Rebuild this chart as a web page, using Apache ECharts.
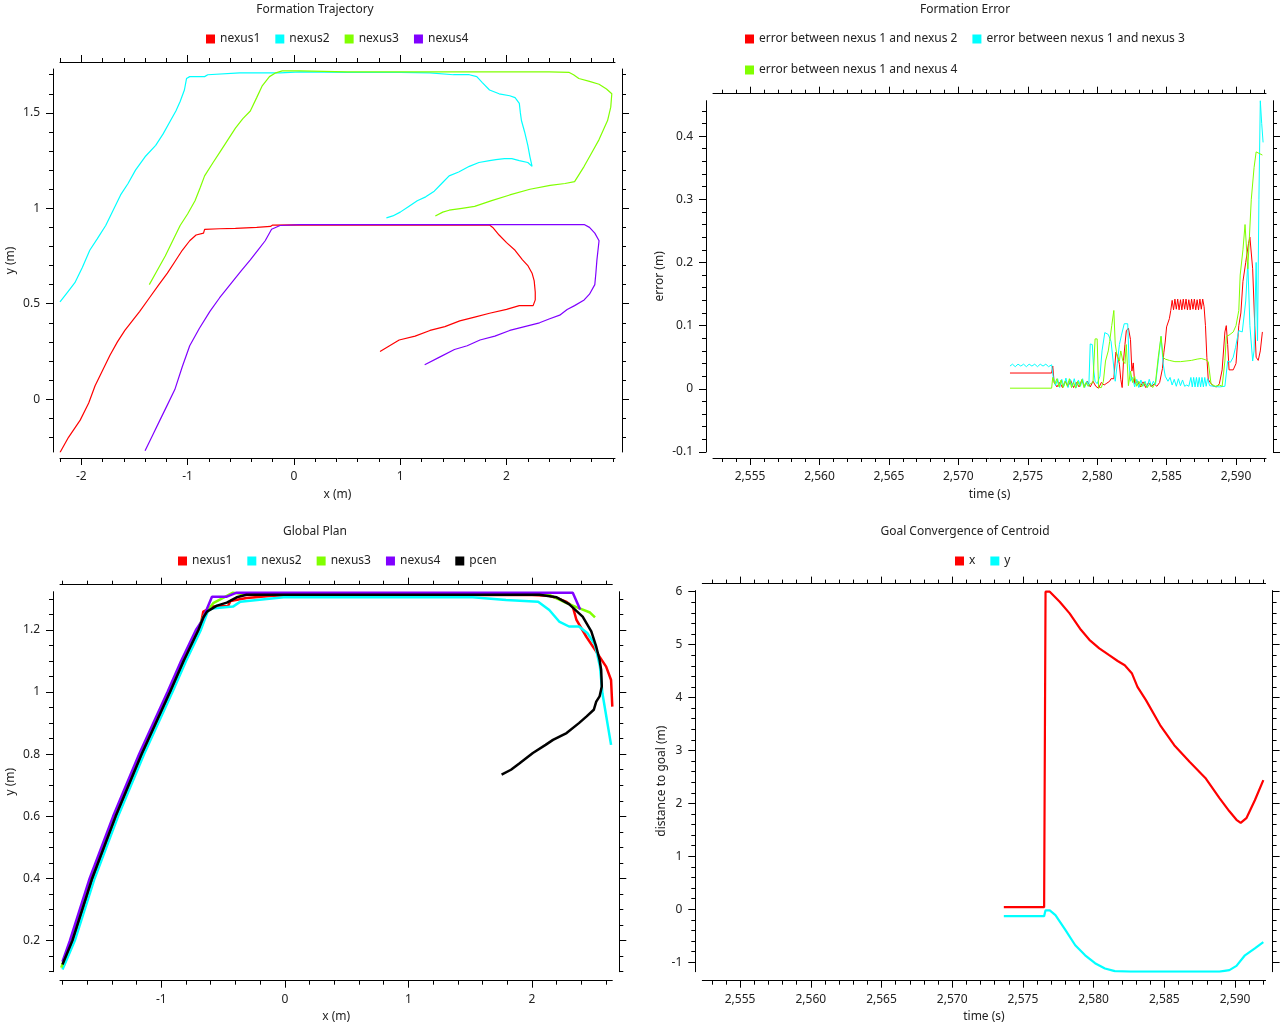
<!DOCTYPE html>
<html><head><meta charset="utf-8">
<script src="https://cdn.jsdelivr.net/npm/echarts@6/dist/echarts.min.js"></script>
<style>html,body{margin:0;padding:0;background:#fff}#c{width:1280px;height:1024px}</style>
</head><body><div id="c"></div>
<script>
// ---------- Panel 1: Formation Trajectory ----------
const traj1 = [[-2.20,-0.28],[-2.12,-0.20],[-2.01,-0.11],[-1.93,-0.02],[-1.87,0.07],[-1.80,0.15],[-1.73,0.23],[-1.66,0.30],[-1.59,0.36],[-1.52,0.41],[-1.45,0.46],[-1.36,0.53],[-1.27,0.60],[-1.19,0.66],[-1.12,0.72],[-1.05,0.78],[-0.98,0.83],[-0.92,0.86],[-0.85,0.87],[-0.84,0.89],[-0.70,0.893],[-0.55,0.895],[-0.35,0.90],[-0.22,0.905],[-0.20,0.912],[0.0,0.913],[0.5,0.912],[1.0,0.913],[1.5,0.912],[1.84,0.912],[1.87,0.90],[1.93,0.86],[2.00,0.82],[2.08,0.78],[2.15,0.73],[2.20,0.70],[2.24,0.66],[2.26,0.62],[2.27,0.56],[2.27,0.52],[2.25,0.49],[2.18,0.49],[2.12,0.49],[2.00,0.47],[1.84,0.45],[1.70,0.43],[1.56,0.41],[1.42,0.38],[1.28,0.36],[1.14,0.33],[0.99,0.31],[0.90,0.28],[0.81,0.25]];
const traj2 = [[-2.20,0.51],[-2.13,0.56],[-2.06,0.61],[-1.99,0.69],[-1.92,0.78],[-1.85,0.84],[-1.77,0.91],[-1.70,0.99],[-1.63,1.07],[-1.56,1.13],[-1.49,1.20],[-1.40,1.27],[-1.30,1.33],[-1.23,1.39],[-1.16,1.46],[-1.11,1.51],[-1.07,1.56],[-1.03,1.62],[-1.01,1.68],[-0.98,1.69],[-0.90,1.69],[-0.84,1.69],[-0.81,1.70],[-0.51,1.71],[-0.13,1.71],[0.06,1.715],[0.5,1.712],[1.0,1.712],[1.28,1.71],[1.50,1.70],[1.65,1.70],[1.72,1.69],[1.77,1.66],[1.84,1.62],[1.93,1.60],[2.03,1.59],[2.08,1.58],[2.12,1.55],[2.13,1.50],[2.14,1.46],[2.17,1.40],[2.20,1.33],[2.22,1.27],[2.24,1.22],[2.20,1.24],[2.12,1.25],[2.05,1.26],[1.98,1.26],[1.90,1.255],[1.84,1.25],[1.74,1.24],[1.65,1.22],[1.55,1.19],[1.46,1.17],[1.39,1.13],[1.32,1.09],[1.24,1.06],[1.16,1.04],[1.08,1.01],[1.00,0.98],[0.93,0.96],[0.87,0.95]];
const traj3 = [[-1.36,0.60],[-1.29,0.67],[-1.21,0.75],[-1.14,0.83],[-1.07,0.91],[-1.00,0.97],[-0.93,1.04],[-0.88,1.11],[-0.84,1.17],[-0.76,1.24],[-0.69,1.30],[-0.62,1.36],[-0.55,1.42],[-0.48,1.47],[-0.41,1.51],[-0.35,1.58],[-0.30,1.64],[-0.23,1.69],[-0.17,1.71],[-0.11,1.72],[0.06,1.72],[0.5,1.715],[1.0,1.715],[1.5,1.715],[2.0,1.715],[2.4,1.715],[2.59,1.712],[2.63,1.70],[2.68,1.68],[2.78,1.665],[2.87,1.65],[2.94,1.625],[2.99,1.60],[2.98,1.53],[2.95,1.46],[2.91,1.41],[2.87,1.36],[2.80,1.29],[2.73,1.22],[2.64,1.14],[2.55,1.13],[2.41,1.12],[2.22,1.10],[2.03,1.07],[1.86,1.04],[1.70,1.01],[1.58,1.00],[1.46,0.99],[1.40,0.98],[1.33,0.96]];
const traj4 = [[-1.40,-0.27],[-1.33,-0.19],[-1.26,-0.11],[-1.19,-0.03],[-1.12,0.05],[-1.05,0.17],[-0.98,0.28],[-0.89,0.37],[-0.79,0.46],[-0.70,0.53],[-0.60,0.60],[-0.50,0.67],[-0.41,0.73],[-0.34,0.78],[-0.27,0.83],[-0.21,0.89],[-0.13,0.91],[0.06,0.915],[0.5,0.915],[1.0,0.915],[1.5,0.915],[2.0,0.915],[2.5,0.915],[2.73,0.915],[2.78,0.90],[2.83,0.87],[2.87,0.83],[2.86,0.78],[2.85,0.73],[2.84,0.66],[2.83,0.60],[2.78,0.55],[2.73,0.52],[2.64,0.49],[2.57,0.47],[2.50,0.44],[2.40,0.42],[2.31,0.40],[2.17,0.38],[2.03,0.36],[1.89,0.33],[1.75,0.31],[1.63,0.28],[1.51,0.26],[1.37,0.22],[1.23,0.18]];
const trajXTicks = [-2,-1,0,1,2];
const trajYTicks = [0,0.5,1,1.5];

// ---------- Panel 2: Formation Error ----------
const err12 = [[2573.72,0.025],[2576.72,0.025],[2576.8,0.036],[2576.9,0.01],[2577.1,0.003],[2577.3,0.01],[2577.5,0.002],[2577.7,0.012],[2577.9,0.004],[2578.1,0.013],[2578.3,0.002],[2578.5,0.01],[2578.7,0.003],[2578.9,0.014],[2579.1,0.004],[2579.3,0.012],[2579.5,0.003],[2579.7,0.012],[2579.9,0.004],[2580.1,0.001],[2580.3,0.01],[2580.5,0.006],[2580.7,0.009],[2580.9,0.012],[2581.0,0.016],[2581.2,0.016],[2581.35,0.058],[2581.5,0.05],[2581.6,0.039],[2581.7,0.015],[2581.8,0.002],[2581.9,0.045],[2582.0,0.07],[2582.1,0.092],[2582.25,0.096],[2582.4,0.078],[2582.5,0.028],[2582.6,0.041],[2582.7,0.008],[2582.9,0.012],[2583.1,0.003],[2583.3,0.011],[2583.5,0.002],[2583.7,0.01],[2583.9,0.003],[2584.1,0.008],[2584.3,0.004],[2584.5,0.01],[2584.7,0.032],[2584.8,0.057],[2584.9,0.074],[2585.0,0.098],[2585.2,0.111],[2585.3,0.124],[2585.4,0.14],[2585.5,0.125],[2585.6,0.142],[2585.7,0.126],[2585.8,0.142],[2585.9,0.125],[2586.0,0.141],[2586.1,0.125],[2586.2,0.142],[2586.3,0.126],[2586.4,0.142],[2586.5,0.125],[2586.6,0.141],[2586.7,0.125],[2586.8,0.142],[2586.9,0.126],[2587.0,0.142],[2587.1,0.125],[2587.2,0.141],[2587.3,0.125],[2587.4,0.142],[2587.5,0.126],[2587.6,0.142],[2587.7,0.13],[2587.8,0.1],[2587.9,0.05],[2588.0,0.015],[2588.2,0.008],[2588.4,0.004],[2588.6,0.003],[2588.8,0.008],[2589.0,0.03],[2589.2,0.09],[2589.3,0.1],[2589.4,0.07],[2589.5,0.03],[2589.6,0.028],[2589.8,0.03],[2590.0,0.04],[2590.2,0.1],[2590.35,0.12],[2590.5,0.17],[2590.7,0.2],[2590.9,0.23],[2591.0,0.24],[2591.2,0.19],[2591.35,0.1],[2591.45,0.05],[2591.6,0.045],[2591.75,0.06],[2591.9,0.09]];
const err13 = [[2573.72,0.036],[2573.9,0.039],[2574.1,0.035],[2574.3,0.039],[2574.5,0.036],[2574.7,0.039],[2574.9,0.035],[2575.1,0.039],[2575.3,0.036],[2575.5,0.039],[2575.7,0.035],[2575.9,0.039],[2576.1,0.036],[2576.3,0.039],[2576.5,0.035],[2576.72,0.038],[2576.84,0.018],[2577.0,0.005],[2577.15,0.016],[2577.3,0.002],[2577.45,0.015],[2577.6,0.004],[2577.75,0.017],[2577.9,0.002],[2578.05,0.015],[2578.2,0.003],[2578.35,0.016],[2578.5,0.002],[2578.65,0.014],[2578.8,0.004],[2578.95,0.016],[2579.1,0.002],[2579.25,0.012],[2579.4,0.004],[2579.5,0.071],[2579.65,0.07],[2579.75,0.03],[2579.85,0.012],[2580.0,0.008],[2580.2,0.02],[2580.35,0.06],[2580.55,0.089],[2580.8,0.086],[2581.0,0.075],[2581.15,0.044],[2581.3,0.012],[2581.45,0.04],[2581.6,0.07],[2581.75,0.085],[2581.95,0.103],[2582.2,0.103],[2582.3,0.04],[2582.4,0.012],[2582.55,0.018],[2582.7,0.003],[2582.85,0.015],[2583.0,0.002],[2583.15,0.014],[2583.3,0.004],[2583.45,0.012],[2583.6,0.002],[2583.75,0.015],[2583.9,0.004],[2584.05,0.012],[2584.2,0.006],[2584.4,0.044],[2584.6,0.083],[2584.75,0.04],[2584.9,0.02],[2585.1,0.012],[2585.25,0.018],[2585.4,0.006],[2585.55,0.015],[2585.7,0.004],[2585.85,0.016],[2586.0,0.005],[2586.15,0.014],[2586.3,0.004],[2586.45,0.006],[2586.6,0.004],[2586.75,0.018],[2586.85,0.003],[2586.95,0.018],[2587.05,0.003],[2587.15,0.018],[2587.25,0.003],[2587.35,0.018],[2587.45,0.003],[2587.55,0.018],[2587.65,0.003],[2587.75,0.018],[2587.85,0.004],[2587.95,0.016],[2588.1,0.005],[2588.4,0.004],[2588.8,0.003],[2589.2,0.004],[2589.4,0.044],[2589.6,0.042],[2589.8,0.05],[2589.96,0.065],[2590.2,0.092],[2590.45,0.09],[2590.7,0.139],[2590.85,0.2],[2591.0,0.1],[2591.2,0.044],[2591.3,0.06],[2591.45,0.2],[2591.55,0.076],[2591.65,0.3],[2591.75,0.456],[2591.85,0.42],[2591.95,0.39]];
const err14 = [[2573.72,0.001],[2576.72,0.001],[2576.8,0.018],[2576.95,0.008],[2577.1,0.016],[2577.25,0.003],[2577.4,0.014],[2577.55,0.002],[2577.7,0.012],[2577.85,0.004],[2578.0,0.016],[2578.15,0.002],[2578.3,0.01],[2578.45,0.001],[2578.6,0.012],[2578.75,0.004],[2578.9,0.015],[2579.05,0.002],[2579.2,0.01],[2579.35,0.004],[2579.5,0.008],[2579.7,0.01],[2579.85,0.079],[2580.0,0.079],[2580.1,0.002],[2580.3,0.002],[2580.45,0.012],[2580.6,0.044],[2580.8,0.06],[2580.9,0.075],[2581.05,0.1],[2581.2,0.124],[2581.3,0.071],[2581.45,0.05],[2581.6,0.044],[2581.7,0.06],[2581.85,0.044],[2582.0,0.04],[2582.1,0.07],[2582.25,0.005],[2582.4,0.028],[2582.55,0.01],[2582.7,0.02],[2582.85,0.004],[2583.0,0.012],[2583.2,0.003],[2583.4,0.01],[2583.6,0.002],[2583.8,0.008],[2584.0,0.002],[2584.2,0.01],[2584.4,0.05],[2584.6,0.083],[2584.75,0.05],[2584.9,0.047],[2585.2,0.045],[2585.6,0.043],[2586.0,0.043],[2586.4,0.044],[2586.8,0.045],[2587.2,0.047],[2587.5,0.048],[2587.8,0.046],[2588.0,0.043],[2588.2,0.008],[2588.5,0.004],[2588.8,0.006],[2589.0,0.004],[2589.2,0.044],[2589.3,0.083],[2589.5,0.085],[2589.8,0.09],[2590.0,0.1],[2590.2,0.124],[2590.3,0.18],[2590.5,0.22],[2590.65,0.26],[2590.85,0.19],[2591.1,0.3],[2591.3,0.35],[2591.45,0.375],[2591.9,0.37]];
const timeTicks = [2555,2560,2565,2570,2575,2580,2585,2590];
const errYTicks = [-0.1,0,0.1,0.2,0.3,0.4];

// ---------- Panel 3: Global Plan ----------
const plan1 = [[-1.79,0.12],[-1.72,0.2],[-1.55,0.4],[-1.36,0.6],[-1.15,0.8],[-0.92,1.0],[-0.81,1.1],[-0.69,1.2],[-0.66,1.259],[-0.58,1.275],[-0.46,1.277],[-0.44,1.293],[-0.31,1.303],[-0.1,1.31],[0.5,1.312],[1.0,1.312],[1.5,1.312],[2.0,1.312],[2.14,1.31],[2.22,1.30],[2.28,1.29],[2.33,1.275],[2.36,1.232],[2.44,1.178],[2.52,1.13],[2.60,1.082],[2.64,1.039],[2.65,0.953]];
const plan2 = [[-1.80,0.107],[-1.70,0.2],[-1.54,0.4],[-1.35,0.6],[-1.14,0.8],[-0.91,1.0],[-0.80,1.1],[-0.68,1.2],[-0.62,1.264],[-0.57,1.27],[-0.42,1.275],[-0.36,1.291],[-0.01,1.305],[1.0,1.305],[1.52,1.305],[1.79,1.296],[2.05,1.291],[2.14,1.264],[2.22,1.227],[2.30,1.211],[2.38,1.211],[2.45,1.189],[2.51,1.152],[2.55,1.082],[2.57,0.996],[2.64,0.83]];
const plan3 = [[-1.81,0.113],[-1.73,0.2],[-1.57,0.4],[-1.38,0.6],[-1.17,0.8],[-0.94,1.0],[-0.83,1.1],[-0.71,1.2],[-0.65,1.25],[-0.58,1.286],[-0.42,1.32],[-0.31,1.313],[0.5,1.313],[2.14,1.313],[2.28,1.286],[2.38,1.27],[2.47,1.256],[2.51,1.24]];
const plan4 = [[-1.80,0.132],[-1.74,0.2],[-1.58,0.4],[-1.39,0.6],[-1.18,0.8],[-0.95,1.0],[-0.84,1.1],[-0.72,1.2],[-0.67,1.23],[-0.59,1.307],[-0.47,1.307],[-0.39,1.32],[0.5,1.32],[1.5,1.32],[2.33,1.32],[2.39,1.266]];
const pcen = [[-1.80,0.123],[-1.72,0.2],[-1.56,0.4],[-1.37,0.6],[-1.16,0.8],[-0.93,1.0],[-0.82,1.1],[-0.70,1.2],[-0.66,1.24],[-0.63,1.259],[-0.55,1.278],[-0.47,1.288],[-0.39,1.305],[-0.31,1.313],[0.5,1.313],[1.5,1.313],[2.06,1.313],[2.20,1.305],[2.30,1.283],[2.41,1.243],[2.48,1.195],[2.52,1.146],[2.547,1.104],[2.56,1.071],[2.565,1.018],[2.547,0.986],[2.52,0.969],[2.50,0.943],[2.44,0.921],[2.38,0.90],[2.28,0.868],[2.17,0.846],[2.11,0.83],[2.007,0.804],[1.90,0.771],[1.83,0.75],[1.754,0.734]];
const planXTicks = [-1,0,1,2];
const planYTicks = [0.2,0.4,0.6,0.8,1,1.2];

// ---------- Panel 4: Goal Convergence of Centroid ----------
const goalX = [[2573.65,0.04],[2576.5,0.04],[2576.6,6.0],[2576.7,6.02],[2576.9,6.0],[2577.6,5.81],[2578.3,5.59],[2579.1,5.28],[2579.7,5.09],[2580.4,4.93],[2581.1,4.80],[2581.7,4.69],[2582.2,4.61],[2582.7,4.46],[2583.1,4.20],[2583.7,3.95],[2584.7,3.48],[2585.7,3.10],[2586.8,2.78],[2587.9,2.48],[2588.9,2.10],[2589.6,1.85],[2590.1,1.69],[2590.4,1.63],[2590.8,1.72],[2591.4,2.06],[2592.0,2.44]];
const goalY = [[2573.65,-0.13],[2576.5,-0.13],[2576.6,-0.02],[2576.9,-0.02],[2577.3,-0.11],[2578.0,-0.39],[2578.7,-0.68],[2579.4,-0.87],[2580.1,-1.02],[2580.8,-1.12],[2581.5,-1.17],[2582.6,-1.18],[2588.9,-1.18],[2589.6,-1.15],[2590.1,-1.07],[2590.7,-0.87],[2591.4,-0.74],[2592.0,-0.62]];
const goalYTicks = [-1,0,1,2,3,4,5,6];

// ---------- helpers ----------
const FONT = '"Noto Sans", "Open Sans", sans-serif';
const TXT = '#222';
function steps(min, max, step) {
  const out = [];
  const k0 = Math.ceil(min / step - 1e-9), k1 = Math.floor(max / step + 1e-9);
  for (let k = k0; k <= k1; k++) out.push(+(k * step).toFixed(6));
  return out;
}
const fmtNum = v => String(+(+v).toFixed(6));
const fmtTime = v => Math.round(v).toLocaleString('en-US');

function axisPair(kind, g, pos, min, max, major, minorStep, off, labels, fmt, name, nameGap) {
  const minor = steps(min, max, minorStep);
  const base = { type: 'value', gridIndex: g, min, max, position: pos, offset: off,
    splitLine: { show: false }, axisPointer: { show: false } };
  const a = Object.assign({}, base, {
    axisLine: { show: true, onZero: false, lineStyle: { color: '#000', width: 1 } },
    axisTick: { show: true, customValues: minor, length: 4, lineStyle: { color: '#000', width: 1 } },
    axisLabel: { show: false }
  });
  const b = Object.assign({}, base, {
    axisLine: { show: false, onZero: false },
    axisTick: { show: true, customValues: major, length: 7, lineStyle: { color: '#000', width: 1 } },
    axisLabel: { show: labels, customValues: major, formatter: fmt, margin: 13,
      color: TXT, fontFamily: FONT, fontSize: 12 }
  });
  if (name) {
    b.name = name; b.nameLocation = 'middle'; b.nameGap = nameGap;
    b.nameTextStyle = { color: TXT, fontFamily: FONT, fontSize: 12 };
  }
  return [a, b];
}

const panels = [
  { grid: { left: 60, top: 69, width: 555, height: 383 }, xoff: 6,
    x: [-2.2, 3.02, trajXTicks, 0.2, fmtNum, 'x (m)', 31],
    y: [-0.277, 1.73, trajYTicks, 0.1, fmtNum, 'y (m)', 36] },
  { grid: { left: 713, top: 100.7, width: 553, height: 351.3 }, xoff: 6,
    x: [2552.33, 2592.16, timeTicks, 1, fmtTime, 'time (s)', 31],
    y: [-0.1, 0.456, errYTicks, 0.02, fmtNum, 'error (m)', 40] },
  { grid: { left: 60, top: 591.7, width: 552.3, height: 380 }, xoff: 9,
    x: [-1.82, 2.65, planXTicks, 0.2, fmtNum, 'x (m)', 30],
    y: [0.1, 1.323, planYTicks, 0.05, fmtNum, 'y (m)', 36] },
  { grid: { left: 702.3, top: 590.6, width: 563.3, height: 381.1 }, xoff: 9,
    x: [2552.33, 2592.16, timeTicks, 1, fmtTime, 'time (s)', 30],
    y: [-1.18, 6.02, goalYTicks, 0.2, fmtNum, 'distance to goal (m)', 28] }
];

const grids = [], xAxes = [], yAxes = [];
panels.forEach((p, g) => {
  grids.push(Object.assign({ containLabel: false }, p.grid));
  const [xmin, xmax, xmaj, xminStep, xfmt, xname, xgap] = p.x;
  const [ymin, ymax, ymaj, yminStep, yfmt, yname, ygap] = p.y;
  xAxes.push(...axisPair('x', g, 'bottom', xmin, xmax, xmaj, xminStep, p.xoff, true, xfmt, xname, xgap));
  xAxes.push(...axisPair('x', g, 'top', xmin, xmax, xmaj, xminStep, 7, false, xfmt));
  yAxes.push(...axisPair('y', g, 'left', ymin, ymax, ymaj, yminStep, 7, true, yfmt, yname, ygap));
  yAxes.push(...axisPair('y', g, 'right', ymin, ymax, ymaj, yminStep, 7, false, yfmt));
});

const RED = '#ff0000', CYAN = '#00ffff', GREEN = '#80ff00', PURPLE = '#8000ff', BLACK = '#000000';
function line(name, data, g, color, width) {
  return { type: 'line', name, data, xAxisIndex: g * 4, yAxisIndex: g * 4,
    showSymbol: false, symbol: 'none', clip: true,
    itemStyle: { color }, lineStyle: { color, width } };
}
const E12 = 'error between nexus 1 and nexus 2', E13 = 'error between nexus 1 and nexus 3', E14 = 'error between nexus 1 and nexus 4';
const series = [
  line('nexus1', traj1, 0, RED, 1.2), line('nexus2', traj2, 0, CYAN, 1.2),
  line('nexus3', traj3, 0, GREEN, 1.2), line('nexus4', traj4, 0, PURPLE, 1.2),
  line(E12, err12, 1, RED, 1), line(E13, err13, 1, CYAN, 1), line(E14, err14, 1, GREEN, 1),
  line('nexus1', plan1, 2, RED, 2.5), line('nexus2', plan2, 2, CYAN, 2.5),
  line('nexus3', plan3, 2, GREEN, 2.5), line('nexus4', plan4, 2, PURPLE, 2.5),
  line('pcen', pcen, 2, BLACK, 2.5),
  line('x', goalX, 3, RED, 2.2), line('y', goalY, 3, CYAN, 2.2)
];

const legendBase = { orient: 'horizontal', icon: 'rect', itemWidth: 9, itemHeight: 9, itemGap: 15, padding: 0,
  textStyle: { color: TXT, fontFamily: FONT, fontSize: 12 }, selectedMode: false };
const titleBase = { padding: 0, textAlign: 'center', textStyle: { color: TXT, fontFamily: FONT, fontSize: 12, fontWeight: 'normal' } };

const option = {
  animation: false,
  backgroundColor: '#ffffff',
  title: [
    Object.assign({ text: 'Formation Trajectory', left: 315, top: 4 }, titleBase),
    Object.assign({ text: 'Formation Error', left: 965, top: 4 }, titleBase),
    Object.assign({ text: 'Global Plan', left: 315, top: 526 }, titleBase),
    Object.assign({ text: 'Goal Convergence of Centroid', left: 965, top: 526 }, titleBase)
  ],
  legend: [
    Object.assign({ data: ['nexus1', 'nexus2', 'nexus3', 'nexus4'], left: 206, top: 33 }, legendBase),
    Object.assign({ data: [E12, E13], left: 745, top: 33 }, legendBase),
    Object.assign({ data: [E14], left: 745, top: 64 }, legendBase),
    Object.assign({ data: ['nexus1', 'nexus2', 'nexus3', 'nexus4', 'pcen'], left: 178, top: 555 }, legendBase),
    Object.assign({ data: ['x', 'y'], left: 955, top: 555 }, legendBase)
  ],
  grid: grids, xAxis: xAxes, yAxis: yAxes, series
};
const chart = echarts.init(document.getElementById('c'), null, { renderer: 'canvas' });
chart.setOption(option);
</script></body></html>
